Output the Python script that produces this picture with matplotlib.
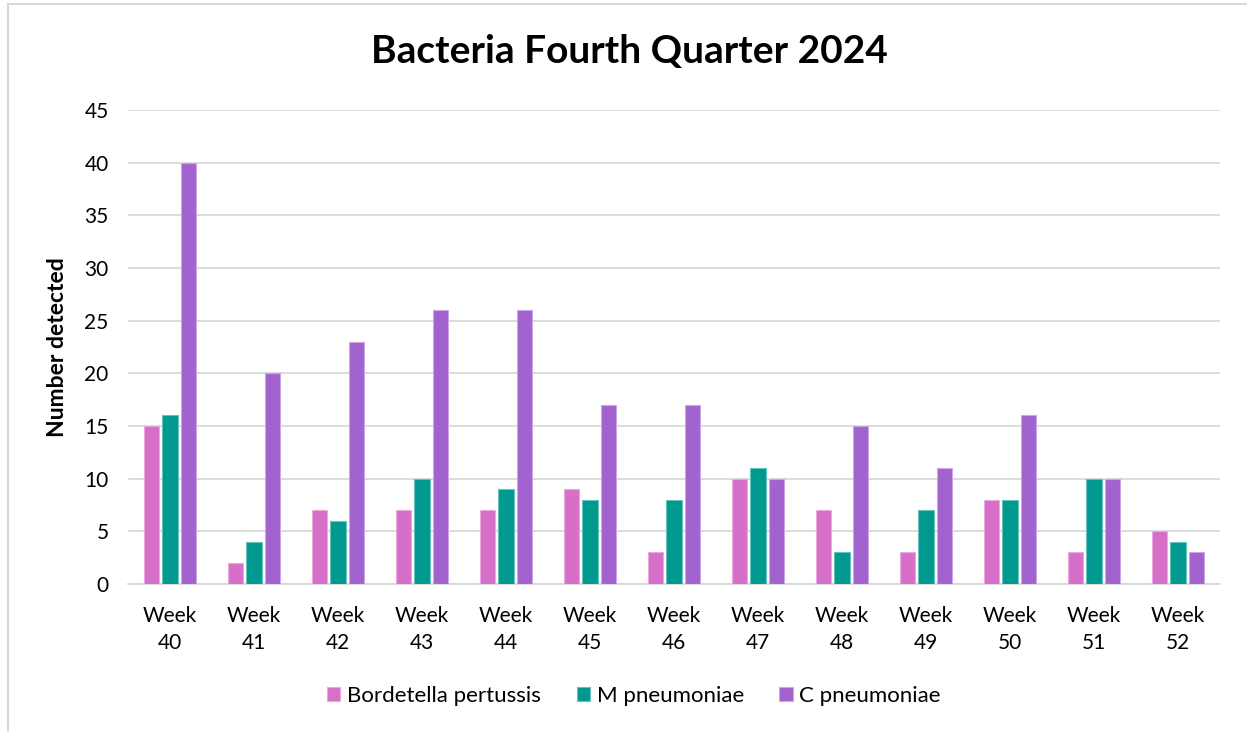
import matplotlib
matplotlib.use("Agg")
import matplotlib.pyplot as plt
from matplotlib.patches import Rectangle
import numpy as np

plt.rcParams['font.family'] = ['Lato', 'DejaVu Sans']

weeks = ["Week\n40", "Week\n41", "Week\n42", "Week\n43", "Week\n44", "Week\n45", "Week\n46",
         "Week\n47", "Week\n48", "Week\n49", "Week\n50", "Week\n51", "Week\n52"]
bordetella = [15, 2, 7, 7, 7, 9, 3, 10, 7, 3, 8, 3, 5]
m_pneumoniae = [16, 4, 6, 10, 9, 8, 8, 11, 3, 7, 8, 10, 4]
c_pneumoniae = [40, 20, 23, 26, 26, 17, 17, 10, 15, 11, 16, 10, 3]

series = [
    ("Bordetella pertussis", bordetella, "#D76FC8", "#E9A8E0"),
    ("M pneumoniae", m_pneumoniae, "#009990", "#66C2BC"),
    ("C pneumoniae", c_pneumoniae, "#A263CE", "#CDA6E8"),
]

fig = plt.figure(figsize=(12.47, 7.32), dpi=100)
fig.patch.set_facecolor("white")
fig.patches.append(Rectangle((8 / 1247, -0.5), 2.0, 0.5 + 1 - 4 / 732,
                             transform=fig.transFigure, fill=False,
                             edgecolor="#D9D9D9", linewidth=1.5))

ax = fig.add_axes([128 / 1247, 1 - 584 / 732, (1220 - 128) / 1247, (584 - 110) / 732])

x = np.arange(len(weeks))
width = 0.18
pitch = 0.222
for i, (name, vals, color, edge) in enumerate(series):
    ax.bar(x + (i - 1) * pitch, vals, width, color=color, edgecolor=edge,
           linewidth=0.8, label=name, zorder=3)

ax.set_xlim(-0.5, len(weeks) - 0.5)
ax.set_ylim(0, 45)
ax.set_yticks(range(0, 46, 5))
ax.yaxis.grid(True, color="#D9D9D9", linewidth=1.3, zorder=0)
ax.set_axisbelow(True)
for s in ["top", "right", "left"]:
    ax.spines[s].set_visible(False)
ax.spines["bottom"].set_color("#D9D9D9")
ax.spines["bottom"].set_linewidth(1.3)
ax.tick_params(axis="both", length=0, labelsize=15, colors="black")
ax.tick_params(axis="x", pad=16)
ax.tick_params(axis="y", pad=14)
ax.set_xticks(x)
ax.set_xticklabels(weeks, linespacing=1.45)

ax.set_ylabel("Number detected", fontsize=16.5, fontweight="bold", labelpad=12)
fig.text(629 / 1247, 1 - 52 / 732, "Bacteria Fourth Quarter 2024", ha="center", va="center",
         fontsize=28, fontweight="bold")

handles, labels = ax.get_legend_handles_labels()
fig.legend(handles, labels, loc="center", bbox_to_anchor=(634 / 1247, 1 - 696 / 732),
           ncol=3, frameon=False, fontsize=16, handlelength=0.6, handleheight=0.6,
           columnspacing=1.6, handletextpad=0.3)

fig.savefig("out.png", dpi=100)
